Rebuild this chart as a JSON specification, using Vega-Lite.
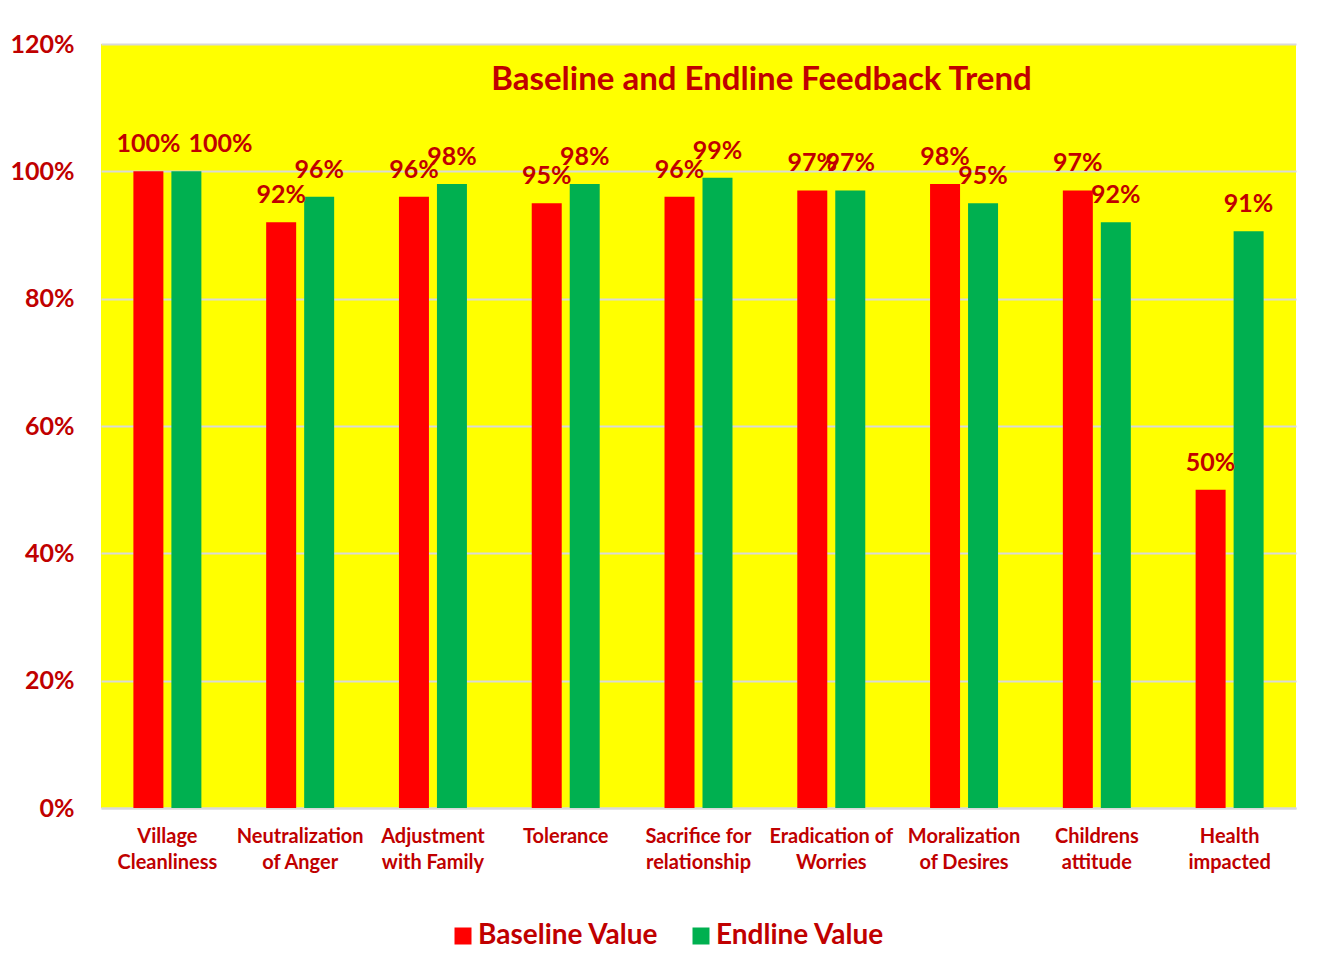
{
  "$schema": "https://vega.github.io/schema/vega-lite/v6.json",
  "width": 1195,
  "height": 764,
  "autosize": "none",
  "padding": {"left": 101, "top": 44, "right": 32, "bottom": 161},
  "background": "white",
  "title": {
    "text": "Baseline and Endline Feedback Trend",
    "color": "#C00000",
    "font": "Lato",
    "fontSize": 33,
    "fontWeight": "bold",
    "anchor": "middle",
    "frame": "group",
    "baseline": "alphabetic",
    "offset": 0,
    "dx": 63,
    "dy": 91
  },
  "data": {
    "values": [
      {"category": "Village\nCleanliness", "series": "Baseline Value", "value": 1.00},
      {"category": "Village\nCleanliness", "series": "Endline Value", "value": 1.00},
      {"category": "Neutralization\nof Anger", "series": "Baseline Value", "value": 0.92},
      {"category": "Neutralization\nof Anger", "series": "Endline Value", "value": 0.96},
      {"category": "Adjustment\nwith Family", "series": "Baseline Value", "value": 0.96},
      {"category": "Adjustment\nwith Family", "series": "Endline Value", "value": 0.98},
      {"category": "Tolerance", "series": "Baseline Value", "value": 0.95},
      {"category": "Tolerance", "series": "Endline Value", "value": 0.98},
      {"category": "Sacrifice for\nrelationship", "series": "Baseline Value", "value": 0.96},
      {"category": "Sacrifice for\nrelationship", "series": "Endline Value", "value": 0.99},
      {"category": "Eradication of\nWorries", "series": "Baseline Value", "value": 0.97},
      {"category": "Eradication of\nWorries", "series": "Endline Value", "value": 0.97},
      {"category": "Moralization\nof Desires", "series": "Baseline Value", "value": 0.98},
      {"category": "Moralization\nof Desires", "series": "Endline Value", "value": 0.95},
      {"category": "Childrens\nattitude", "series": "Baseline Value", "value": 0.97},
      {"category": "Childrens\nattitude", "series": "Endline Value", "value": 0.92},
      {"category": "Health\nimpacted", "series": "Baseline Value", "value": 0.50},
      {"category": "Health\nimpacted", "series": "Endline Value", "value": 0.906}
    ]
  },
  "encoding": {
    "x": {
      "field": "category",
      "type": "nominal",
      "sort": null,
      "scale": {"paddingInner": 0.488, "paddingOuter": 0.244},
      "axis": {
        "title": null,
        "labelAngle": 0,
        "labelExpr": "split(datum.label, '\\n')",
        "labelFont": "Lato",
        "labelFontSize": 20,
        "labelFontWeight": "bold",
        "labelColor": "#C00000",
        "labelLineHeight": 26,
        "labelPadding": 18,
        "ticks": false,
        "domain": true,
        "domainColor": "#D9D9D9",
        "domainWidth": 2,
        "grid": false
      }
    },
    "xOffset": {
      "field": "series",
      "type": "nominal",
      "scale": {"domain": ["Baseline Value", "Endline Value"], "paddingInner": 0.2105, "paddingOuter": 0}
    },
    "y": {
      "field": "value",
      "type": "quantitative",
      "scale": {"domain": [0, 1.2], "nice": false},
      "axis": {
        "title": null,
        "format": ".0%",
        "values": [0, 0.2, 0.4, 0.6, 0.8, 1.0, 1.2],
        "labelFont": "Lato",
        "labelFontSize": 25,
        "labelFontWeight": "bold",
        "labelColor": "#C00000",
        "labelPadding": 27,
        "ticks": false,
        "domain": false,
        "grid": true,
        "gridColor": "#D9D9D9",
        "gridWidth": 2
      }
    }
  },
  "layer": [
    {
      "mark": {"type": "bar"},
      "encoding": {
        "color": {
          "field": "series",
          "type": "nominal",
          "scale": {"domain": ["Baseline Value", "Endline Value"], "range": ["#FF0000", "#00B050"]},
          "legend": {
            "title": null,
            "orient": "none",
            "legendX": 348,
            "legendY": 878,
            "direction": "horizontal",
            "padding": 0,
            "symbolType": "square",
            "symbolSize": 289,
            "symbolStrokeWidth": 0,
            "symbolOpacity": 1,
            "labelFont": "Lato",
            "labelFontSize": 28,
            "labelFontWeight": "bold",
            "labelColor": "#C00000",
            "labelOffset": 1,
            "columnPadding": 28,
            "labelLimit": 400
          }
        }
      }
    },
    {
      "transform": [{"filter": "!(datum.series === 'Endline Value' && datum.value >= 1)"}],
      "mark": {
        "type": "text",
        "dy": -19,
        "baseline": "alphabetic",
        "font": "Lato",
        "fontSize": 25,
        "fontWeight": "bold",
        "color": "#C00000"
      },
      "encoding": {
        "text": {"field": "value", "type": "quantitative", "format": ".0%"}
      }
    },
    {
      "transform": [{"filter": "datum.series === 'Endline Value' && datum.value >= 1"}],
      "mark": {
        "type": "text",
        "dy": -19,
        "dx": 34,
        "baseline": "alphabetic",
        "font": "Lato",
        "fontSize": 25,
        "fontWeight": "bold",
        "color": "#C00000"
      },
      "encoding": {
        "text": {"field": "value", "type": "quantitative", "format": ".0%"}
      }
    }
  ],
  "config": {
    "view": {"fill": "#FFFF00", "stroke": null}
  }
}
